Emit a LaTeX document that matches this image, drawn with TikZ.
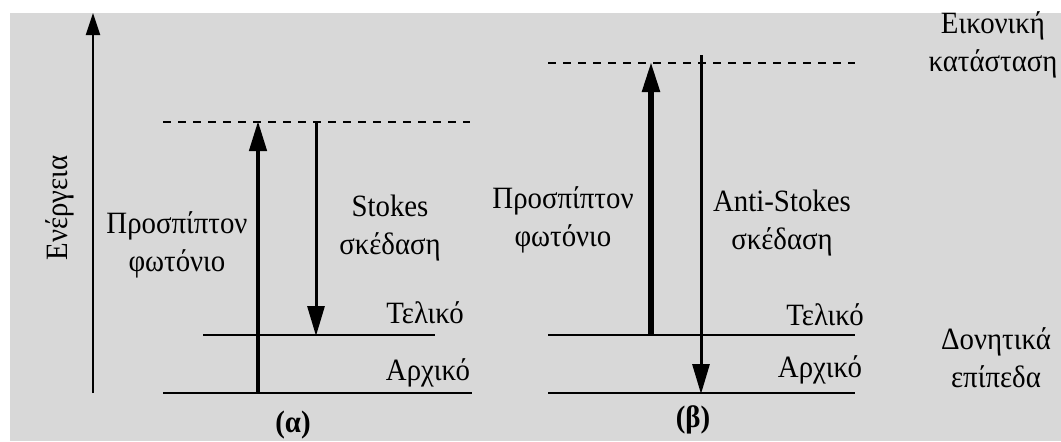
\documentclass[tikz,border=0pt]{standalone}
\usepackage{fontspec}
\setmainfont{Liberation Serif}[FakeStretch=0.93]
\usetikzlibrary{arrows.meta}
\definecolor{bg}{RGB}{216,216,216}
\begin{document}
\begin{tikzpicture}[x=0.5pt,y=-0.5pt,
  lbl/.style={font=\fontsize{15.5}{19}\selectfont, align=center, inner sep=0pt},
  level/.style={line width=1pt},
  virt/.style={line width=1pt, dash pattern=on 4pt off 3.5pt},
  upa/.style={line width=2.2pt, -{Triangle[length=15pt,width=8.5pt]}},
  upb/.style={line width=2.7pt, -{Triangle[length=15pt,width=8.5pt]}},
  downarr/.style={line width=1.5pt, -{Triangle[length=15pt,width=8.5pt]}},
  axisarr/.style={line width=1pt, -{Triangle[length=11pt,width=7pt]}}]
\useasboundingbox (0,0) rectangle (1061,441);
\fill[white] (0,0) rectangle (1061,441);
\fill[bg] (10,13) rectangle (1061,441);

% energy axis
\coordinate (ax0) at (93,393);
\coordinate (ax1) at (93,13);
\draw[axisarr] (ax0) -- (ax1);
\node[lbl, rotate=90] (energy) at (60,208) {Ενέργεια};

% panel (alpha)
\coordinate (aV1) at (163,122); \coordinate (aV2) at (470,122);
\coordinate (aF1) at (203,335); \coordinate (aF2) at (435,335);
\coordinate (aI1) at (163,393); \coordinate (aI2) at (472,393);
\draw[virt] (aV1) -- (aV2);
\draw[level] (aF1) -- (aF2);
\draw[level] (aI1) -- (aI2);
\coordinate (aUpS) at (258,393); \coordinate (aUpE) at (258,121);
\coordinate (aDnS) at (316,122); \coordinate (aDnE) at (316,336);
\draw[upa] (aUpS) -- (aUpE);
\draw[downarr] (aDnS) -- (aDnE);
\node[lbl] (aInc) at (177,245) {Προσπίπτον\\φωτόνιο};
\node[lbl] (aSt) at (390,228) {Stokes\\σκέδαση};
\node[lbl] (aFin) at (425,313) {Τελικό};
\node[lbl] (aIni) at (428,373) {Αρχικό};
\node[lbl, font=\fontsize{15.5}{19}\selectfont\bfseries] (aCap) at (293,425) {(α)};

% panel (beta)
\coordinate (bV1) at (548,63); \coordinate (bV2) at (855,63);
\coordinate (bF1) at (548,335); \coordinate (bF2) at (855,335);
\coordinate (bI1) at (548,393); \coordinate (bI2) at (855,393);
\draw[virt] (bV1) -- (bV2);
\draw[level] (bF1) -- (bF2);
\draw[level] (bI1) -- (bI2);
\coordinate (bUpS) at (651,335); \coordinate (bUpE) at (651,62);
\coordinate (bDnS) at (701,55); \coordinate (bDnE) at (701,394);
\draw[upb] (bUpS) -- (bUpE);
\draw[downarr] (bDnS) -- (bDnE);
\node[lbl] (bInc) at (563,220) {Προσπίπτον\\φωτόνιο};
\node[lbl] (bSt) at (782,223) {Anti-Stokes\\σκέδαση};
\node[lbl] (bFin) at (825,315) {Τελικό};
\node[lbl] (bIni) at (820,370) {Αρχικό};
\node[lbl, font=\fontsize{15.5}{19}\selectfont\bfseries] (bCap) at (693,420) {(β)};

% right labels
\node[lbl] (virtual) at (993,45) {Εικονική\\κατάσταση};
\node[lbl] (vib) at (996,358) {Δονητικά\\επίπεδα};
\end{tikzpicture}
\end{document}
